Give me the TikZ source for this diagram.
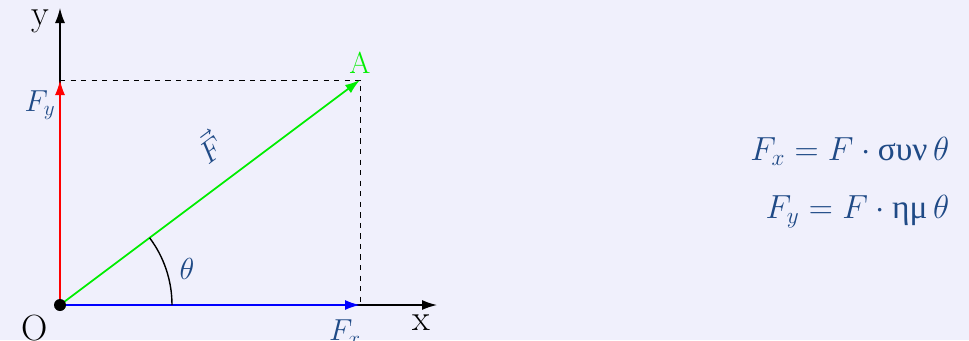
\documentclass[tikz,border=0pt]{standalone}
\usepackage{amsmath}
\usepackage{fontspec}
\usepackage{tikz}
\usetikzlibrary{arrows.meta,positioning,calc}
\newfontfamily\greekfont{Liberation Serif}
\definecolor{bgpage}{HTML}{F0F0FC}
\definecolor{labelblue}{HTML}{1F4A86}
\definecolor{vecgreen}{HTML}{00EE00}
\tikzset{
  axis/.style={-{Latex[length=3mm,width=2mm]},line width=0.8pt,draw=black},
  comp/.style={-{Latex[length=3mm,width=2mm]},line width=1pt},
  guide/.style={dashed,line width=0.5pt,draw=black},
  lbl/.style={font=\LARGE,text=labelblue},
  axlbl/.style={font=\huge,text=black}
}
\begin{document}
\begin{tikzpicture}
  \fill[bgpage] (-1.2,-0.7) rectangle (18.18,6.1);
  \useasboundingbox (-1.2,-0.7) rectangle (18.18,6.1);
  % points
  \coordinate (O) at (0,0);
  \coordinate (A) at (6,4.5);
  \coordinate (Ax) at (6,0);
  \coordinate (Ay) at (0,4.5);
  \coordinate (xend) at (7.54,0);
  \coordinate (yend) at (0,5.94);
  % axes and projections
  \draw[axis] (O) -- (xend);
  \draw[axis] (O) -- (yend);
  \draw[guide] (Ay) -- (A) -- (Ax);
  % components
  \draw[comp,red] (O) -- (Ay);
  \draw[comp,blue] (O) -- (Ax);
  \draw[comp,vecgreen] (O) -- (A)
    node[pos=0.57,sloped,above=9pt,lbl] (Flbl) {$\vec{F}$};
  % angle
  \draw[line width=0.8pt] (2.24,0) arc[start angle=0,end angle=36.87,radius=2.24];
  \fill (O) circle[radius=0.12];
  % labels
  \node[axlbl] (ylbl) at (-0.4,5.68) {y};
  \node[axlbl] (xlbl) at (7.22,-0.36) {x};
  \node[axlbl] (olbl) at (-0.5,-0.46) {O};
  \node[font=\LARGE,text=vecgreen] (albl) at (6,4.85) {A};
  \node[lbl] (fylbl) at (-0.4,4.0) {$F_y$};
  \node[lbl] (fxlbl) at (5.7,-0.55) {$F_x$};
  \node[lbl] (thlbl) at (2.54,0.72) {$\theta$};
  % equations
  \node[lbl,align=right,anchor=east,scale=1.1] (eqs) at (17.92,2.44)
    {$F_x = F\cdot\text{\greekfont συν}\,\theta$\\[8pt]
     $F_y = F\cdot\text{\greekfont ημ}\,\theta$};
\end{tikzpicture}
\end{document}
